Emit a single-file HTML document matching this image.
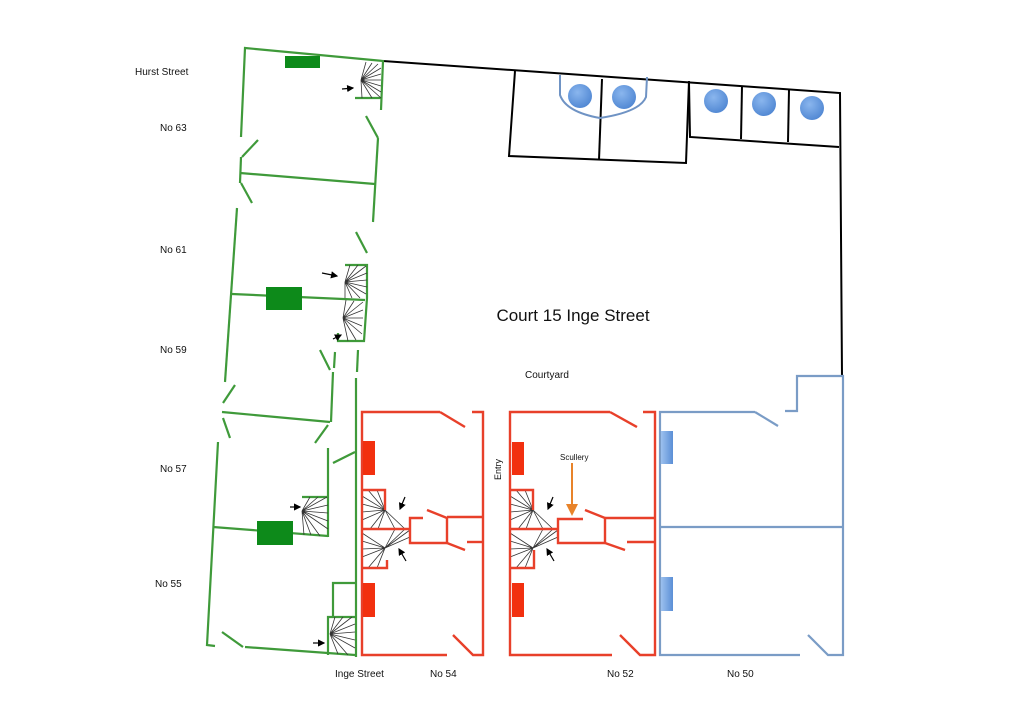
<!DOCTYPE html>
<html><head><meta charset="utf-8"><style>
html,body{margin:0;padding:0;background:#fff;}
svg{display:block}
text{font-family:"Liberation Sans",sans-serif;fill:#111}
</style></head><body>
<svg width="1024" height="723" viewBox="0 0 1024 723" xmlns="http://www.w3.org/2000/svg">
<defs>
<marker id="ah" markerWidth="6" markerHeight="6" refX="5" refY="3" orient="auto"><path d="M0,0 L6,3 L0,6 z" fill="#000"/></marker>
<marker id="oh" markerWidth="6" markerHeight="6" refX="5" refY="3" orient="auto"><path d="M0,0 L6,3 L0,6 z" fill="#e8832a"/></marker>
<radialGradient id="cg" cx="40%" cy="35%" r="70%"><stop offset="0" stop-color="#8ab6ee"/><stop offset="1" stop-color="#4f86d2"/></radialGradient>
<linearGradient id="bg" x1="0" x2="1"><stop offset="0" stop-color="#9cc0ee"/><stop offset="1" stop-color="#5b8fd6"/></linearGradient>
</defs>

<!-- labels -->
<g font-size="10">
<text x="135" y="75">Hurst Street</text>
<text x="160" y="131">No 63</text>
<text x="160" y="253">No 61</text>
<text x="160" y="353">No 59</text>
<text x="160" y="472">No 57</text>
<text x="155" y="587">No 55</text>
<text x="335" y="677">Inge Street</text>
<text x="430" y="677">No 54</text>
<text x="607" y="677">No 52</text>
<text x="727" y="677">No 50</text>
<text x="525" y="378">Courtyard</text>
<text x="0" y="0" transform="translate(501,480) rotate(-90)" font-size="9">Entry</text>
<text x="560" y="460" font-size="8">Scullery</text>
</g>
<text x="573" y="321" font-size="17" text-anchor="middle">Court 15 Inge Street</text>

<!-- black court -->
<g stroke="#000" stroke-width="2" fill="none">
<polyline points="383,61 840,93 842,377"/>
<polyline points="515,71 509,156 686,163 689,81"/>
<line x1="602" y1="79" x2="599" y2="160"/>
<polyline points="689,83 690,137 839,147"/>
<line x1="742" y1="86" x2="741" y2="139"/>
<line x1="789" y1="90" x2="788" y2="142"/>
</g>
<path d="M560,75 L560,95 Q566,112 600,118 Q640,112 646,97 L647,77" stroke="#6f93c4" stroke-width="2" fill="none"/>
<g fill="url(#cg)">
<circle cx="580" cy="96" r="12"/><circle cx="624" cy="97" r="12"/>
<circle cx="716" cy="101" r="12"/><circle cx="764" cy="104" r="12"/><circle cx="812" cy="108" r="12"/>
</g>

<!-- green houses -->
<g stroke="#3f9a3a" stroke-width="2.2" fill="none">
<polyline points="241,137 245,48 383,61 381,110"/>
<polyline points="355,98 381,98"/>
<line x1="366" y1="116" x2="378" y2="138"/>
<polyline points="378,138 373,222"/>
<line x1="258" y1="140" x2="242" y2="157"/>
<line x1="241" y1="157" x2="240" y2="183"/>
<line x1="240" y1="173" x2="375" y2="184"/>
<line x1="241" y1="183" x2="252" y2="203"/>
<line x1="237" y1="208" x2="225" y2="382"/>
<line x1="356" y1="232" x2="367" y2="253"/>
<polyline points="345,265 367,265 367,298 364,341 338,341 338,333"/>
<line x1="232" y1="294" x2="365" y2="300"/>
<line x1="320" y1="350" x2="330" y2="370"/>
<line x1="335" y1="352" x2="334" y2="368"/>
<line x1="358" y1="350" x2="357" y2="372"/>
<line x1="235" y1="385" x2="223" y2="403"/>
<line x1="222" y1="412" x2="330" y2="422"/>
<line x1="223" y1="418" x2="230" y2="438"/>
<line x1="333" y1="372" x2="331" y2="422"/>
<line x1="328" y1="425" x2="315" y2="443"/>
<polyline points="218,442 207,645 215,646"/>
<line x1="356" y1="378" x2="356" y2="657"/>
<line x1="333" y1="463" x2="355" y2="452"/>
<polyline points="328,448 328,537"/>
<polyline points="302,497 328,497"/>
<line x1="213" y1="527" x2="328" y2="536"/>
<polyline points="333,617 333,583 355,583"/>
<polyline points="328,655 328,617 355,617"/>
<line x1="245" y1="647" x2="355" y2="655"/>
<line x1="222" y1="632" x2="243" y2="647"/>
</g>
<rect x="285" y="56" width="35" height="12" fill="#0d8a1a"/>
<rect x="266" y="287" width="36" height="23" fill="#0d8a1a"/>
<rect x="257" y="521" width="36" height="24" fill="#0d8a1a"/>

<!-- stair fans -->
<g stroke="#333" stroke-width="0.8">
<path d="M361,80L366,62M361,80L372,63M361,80L378,64M361,80L381,68M361,80L381,74M361,80L381,80M361,80L381,86M361,80L381,92M361,80L381,98M361,80L372,98M361,80L362,98"/>
<path d="M345,282L350,265M345,282L358,265M345,282L366,266M345,282L367,273M345,282L367,280M345,282L367,287M345,282L366,294M345,282L360,298M345,282L352,298M345,282L345,298"/>
<path d="M343,318L346,300M343,318L354,301M343,318L363,302M343,318L363,310M343,318L363,318M343,318L362,326M343,318L362,334M343,318L356,340M343,318L348,341"/>
<path d="M302,511L310,497M302,511L318,497M302,511L327,497M302,511L328,505M302,511L328,513M302,511L328,521M302,511L328,529M302,511L320,536M302,511L311,535M302,511L304,535"/>
<path d="M330,634L335,617M330,634L343,617M330,634L352,617M330,634L355,624M330,634L355,632M330,634L355,640M330,634L355,648M330,634L348,655M330,634L338,654"/>
<path d="M385,510L368,490M385,510L377,490M385,510L362,496M385,510L362,504M385,510L362,512M385,510L362,520M385,510L370,529M385,510L378,529M385,510L395,529M385,510L405,529"/>
<path d="M385,548L362,533M385,548L362,541M385,548L362,549M385,548L362,557M385,548L368,568M385,548L377,568M385,548L395,529M385,548L405,529M385,548L410,530M385,548L410,537"/>
<path d="M533,510L516,490M533,510L525,490M533,510L510,496M533,510L510,504M533,510L510,512M533,510L510,520M533,510L518,529M533,510L526,529M533,510L543,529M533,510L553,529"/>
<path d="M533,548L510,533M533,548L510,541M533,548L510,549M533,548L510,557M533,548L516,568M533,548L525,568M533,548L543,529M533,548L553,529M533,548L558,530M533,548L558,537"/>
</g>

<!-- arrows -->
<g stroke="#000" stroke-width="1.2" marker-end="url(#ah)">
<line x1="342" y1="89" x2="353" y2="88"/>
<line x1="322" y1="273" x2="337" y2="276"/>
<line x1="333" y1="339" x2="341" y2="335"/>
<line x1="290" y1="507" x2="300" y2="507"/>
<line x1="313" y1="643" x2="324" y2="643"/>
<line x1="405" y1="497" x2="400" y2="509"/>
<line x1="406" y1="561" x2="399" y2="549"/>
<line x1="553" y1="497" x2="548" y2="509"/>
<line x1="554" y1="561" x2="547" y2="549"/>
</g>
<line x1="572" y1="463" x2="572" y2="514" stroke="#e8832a" stroke-width="2" marker-end="url(#oh)"/>

<!-- red houses -->
<g stroke="#e8402a" stroke-width="2.4" fill="none">
<polyline points="440,412 362,412 362,655 447,655"/>
<line x1="440" y1="412" x2="465" y2="427"/>
<polyline points="472,412 483,412 483,655 473,655 453,635"/>
<polyline points="362,490 385,490 385,510"/>
<line x1="362" y1="529" x2="410" y2="529"/>
<polyline points="362,568 387,568 387,560"/>
<polyline points="423,518 410,518 410,543 447,543"/>
<line x1="447" y1="517" x2="447" y2="543"/>
<line x1="447" y1="517" x2="483" y2="517"/>
<line x1="427" y1="510" x2="447" y2="518"/>
<line x1="447" y1="543" x2="465" y2="550"/>
<line x1="467" y1="542" x2="483" y2="542"/>

<polyline points="610,412 510,412 510,655 612,655"/>
<line x1="610" y1="412" x2="637" y2="427"/>
<polyline points="643,412 655,412 655,655 640,655 620,635"/>
<polyline points="510,490 533,490 533,510"/>
<line x1="510" y1="529" x2="558" y2="529"/>
<polyline points="510,568 534,568 534,550"/>
<polyline points="583,519 558,519 558,543 605,543"/>
<line x1="605" y1="518" x2="605" y2="543"/>
<line x1="605" y1="518" x2="655" y2="518"/>
<line x1="585" y1="510" x2="605" y2="518"/>
<line x1="605" y1="543" x2="625" y2="550"/>
<line x1="627" y1="542" x2="655" y2="542"/>
</g>
<g fill="#f2300f">
<rect x="363" y="441" width="12" height="34"/><rect x="363" y="583" width="12" height="34"/>
<rect x="512" y="442" width="12" height="33"/><rect x="512" y="583" width="12" height="34"/>
</g>

<!-- blue house -->
<g stroke="#7a9cc6" stroke-width="2.2" fill="none">
<polyline points="755,412 660,412 660,655 800,655"/>
<line x1="755" y1="412" x2="778" y2="426"/>
<polyline points="785,411 797,411 797,376 843,376 843,655 828,655 808,635"/>
<line x1="660" y1="527" x2="843" y2="527"/>
</g>
<rect x="661" y="431" width="12" height="33" fill="url(#bg)"/>
<rect x="661" y="577" width="12" height="34" fill="url(#bg)"/>
</svg>
</body></html>
